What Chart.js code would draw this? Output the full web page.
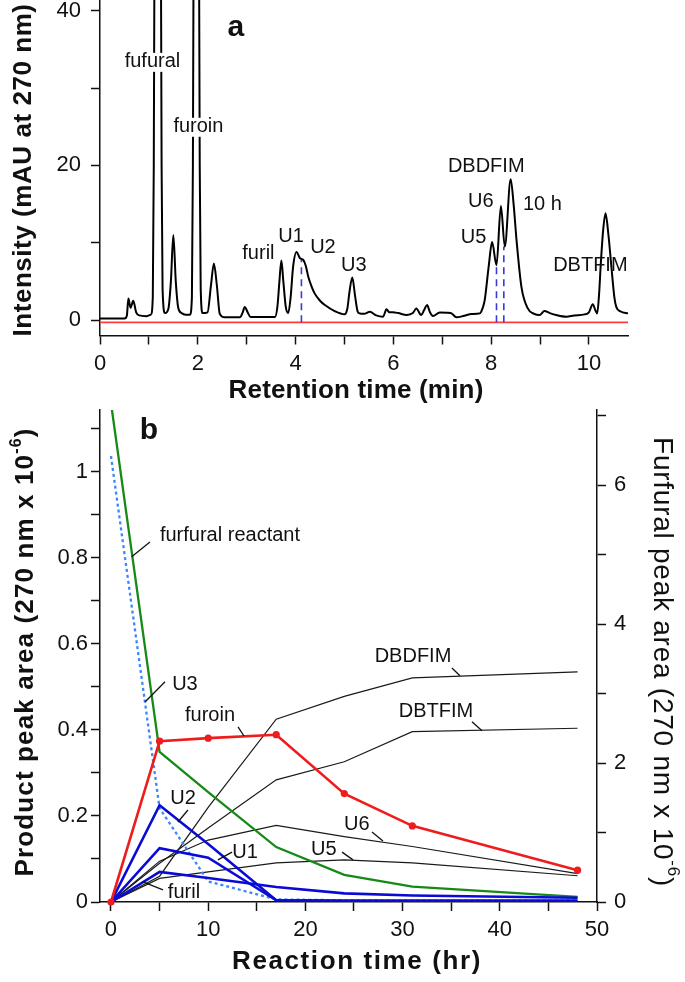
<!DOCTYPE html>
<html>
<head>
<meta charset="utf-8">
<script src="https://cdn.jsdelivr.net/npm/chart.js@4.4.1/dist/chart.umd.min.js"></script>
<style>
  html, body { margin: 0; padding: 0; background: #fff; }
  #wrap { position: relative; width: 685px; height: 982px; overflow: hidden; }
  canvas { position: absolute; left: 0; }
  #chromChart { top: 0; }
  #kinChart { top: 400px; }
</style>
</head>
<body>
<div id="wrap">
  <canvas id="chromChart" width="685" height="410"></canvas>
  <canvas id="kinChart" width="685" height="582"></canvas>
</div>
<script>
// ---- panel a: chromatogram after 10 h ----
const chromTime = [
  0.00, 0.50, 0.55, 0.58, 0.625, 0.68, 0.74, 0.80, 0.95, 1.04, 1.08, 1.10, 1.12, 1.18, 1.24, 1.26, 1.28, 1.33,
  1.40, 1.45, 1.50, 1.55, 1.60, 1.67, 1.75, 1.84, 1.88, 1.90, 1.92, 1.97, 2.02, 2.04, 2.06, 2.10,
  2.20, 2.27, 2.33, 2.39, 2.45, 2.55, 2.86, 2.92, 2.96, 3.02, 3.08, 3.58, 3.63, 3.67, 3.71, 3.75, 3.80, 3.85,
  3.90, 3.95, 4.02, 4.09, 4.155, 4.21, 4.26, 4.33, 4.39, 4.50, 4.60, 4.80, 5.00, 5.06, 5.10, 5.16, 5.22, 5.27,
  5.31, 5.40, 5.52, 5.65, 5.79, 5.86, 5.92, 5.99, 6.10, 6.27, 6.40, 6.47, 6.57, 6.63, 6.69, 6.75, 6.81, 6.95,
  7.10, 7.19, 7.29, 7.45, 7.60, 7.77, 7.83, 7.87, 7.95, 8.02, 8.11, 8.20, 8.28, 8.40, 8.46, 8.52, 8.62, 8.75,
  8.88, 8.99, 9.09, 9.20, 9.33, 9.54, 9.70, 9.91, 10.00, 10.08, 10.13, 10.17, 10.21, 10.24, 10.29, 10.34, 10.40,
  10.46, 10.52, 10.56, 10.65, 10.80
];
const chromSignal = [
  0.2, 0.2, 0.6, 2.8, 1.6, 2.5, 1.0, 0.6, 0.5, 0.7, 3.0, 20, 60, 150, 60, 20, 4.0, 0.9,
  1.5, 5.0, 11.0, 5.0, 1.6, 0.9, 0.7, 0.7, 3.0, 20, 60, 150, 60, 20, 4.0, 0.9,
  1.0, 4.5, 7.3, 4.5, 0.8, 0.35, 0.35, 1.0, 1.7, 1.0, 0.4, 0.4, 1.8, 5.0, 7.7, 5.0, 1.7, 0.9,
  3.0, 6.9, 8.8, 8.0, 7.8, 7.0, 5.6, 4.3, 3.45, 2.5, 1.94, 1.16, 0.75, 1.5, 3.5, 5.5, 3.0, 1.1,
  0.86, 0.8, 1.07, 0.6, 0.43, 1.38, 1.0, 1.0, 0.9, 0.65, 0.9, 1.5, 0.65, 1.3, 1.94, 1.0, 0.52, 0.99,
  0.95, 0.86, 0.35, 0.55, 0.78, 0.86, 1.6, 2.6, 6.9, 10.1, 7.1, 14.75, 9.5, 18.2, 15.0, 10.35, 4.3, 1.5,
  0.8, 0.65, 1.16, 0.9, 0.65, 0.43, 0.6, 0.73, 1.0, 2.03, 1.3, 0.86, 3.5, 6.9, 11.5, 13.8, 11.0,
  6.9, 3.0, 1.7, 1.1, 0.86
];
const zeroTime = [0, 10.8];
const zeroSignal = [-0.3, -0.3];
const cutTime = [4.12, 8.11, 8.26];
const cutTop = [7.9, 7.1, 9.5];
const cutBottom = -0.3;

// ---- panel b: peak areas vs reaction time ----
const hours = [0, 5, 10, 17, 24, 31, 48];
const furoin = [0, 0.374, 0.381, 0.389, 0.252, 0.177, 0.074];
const u2 = [0, 0.225, 0.135, 0.004, 0.003, 0.003, 0.003];
const u1 = [0, 0.125, 0.103, 0.004, 0.003, 0.003, 0.003];
const furil = [0, 0.07, 0.056, 0.035, 0.02, 0.015, 0.01];
const u3 = [1.037, 0.218, 0.048, 0.006, 0.004, 0.003, 0.003];
const dbdfim = [0, 0.06, 0.22, 0.425, 0.478, 0.521, 0.535];
const dbtfim = [0, 0.09, 0.172, 0.284, 0.326, 0.396, 0.404];
const u6 = [0, 0.095, 0.144, 0.178, 0.152, 0.129, 0.066];
const u5 = [0, 0.055, 0.07, 0.091, 0.098, 0.091, 0.061];
const furfural = [7.18, 2.16, 1.58, 0.79, 0.39, 0.22, 0.074]; // right axis

const FONT = "'Liberation Sans', Arial, Helvetica, sans-serif";

function pairs(xs, ys) {
  return xs.map((x, i) => ({ x: x, y: ys[i] }));
}

function tickList(from, to, step) {
  const out = [];
  for (let v = from; v <= to + 1e-9; v += step) out.push({ value: +v.toFixed(4) });
  return out;
}

// fixed box size, and no label padding pushed into the chart area
function fixSize(key, size) {
  return (s) => {
    s[key] = size;
    s.paddingTop = 0;
    s.paddingBottom = 0;
    s.paddingLeft = 0;
    s.paddingRight = 0;
  };
}

function axisStyle(extra) {
  return Object.assign({
    type: "linear",
    grid: { drawOnChartArea: false, drawTicks: true, tickLength: 9, tickColor: "#111", tickWidth: 1.5 },
    border: { display: true, color: "#111", width: 1.5 },
  }, extra);
}

// text with optional superscript, stretched to a given length
function drawTitle(ctx, t) {
  ctx.save();
  ctx.translate(t.x, t.y);
  ctx.rotate(t.angle || 0);
  ctx.fillStyle = "#111";
  ctx.textBaseline = "middle";
  ctx.textAlign = "left";
  const size = t.size;
  const mainFont = `${t.weight || "normal"} ${size}px ${FONT}`;
  const supFont = `${t.weight || "normal"} ${Math.round(size * 0.62)}px ${FONT}`;
  ctx.letterSpacing = "0px";
  let raw = 0, chars = 0;
  t.parts.forEach((p) => {
    ctx.font = p.sup ? supFont : mainFont;
    raw += ctx.measureText(p.t).width;
    chars += p.t.length;
  });
  const spacing = t.len ? (t.len - raw) / chars : 0;
  ctx.letterSpacing = spacing.toFixed(2) + "px";
  let total = 0;
  t.parts.forEach((p) => {
    ctx.font = p.sup ? supFont : mainFont;
    total += ctx.measureText(p.t).width;
  });
  let x = -total / 2;
  t.parts.forEach((p) => {
    ctx.font = p.sup ? supFont : mainFont;
    ctx.fillText(p.t, x, p.sup ? -size * 0.38 : 0);
    x += ctx.measureText(p.t).width;
  });
  ctx.restore();
}

const annotate = {
  id: "annotate",
  afterDraw(chart, args, opts) {
    const ctx = chart.ctx;
    const xs = chart.scales.x;
    const ys = chart.scales.y;
    ctx.save();
    ctx.strokeStyle = "#111";
    ctx.lineWidth = 1.3;
    ctx.textAlign = "center";
    ctx.textBaseline = "middle";
    (opts.labels || []).forEach((a) => {
      const px = xs.getPixelForValue(a.x);
      const py = ys.getPixelForValue(a.y);
      ctx.font = a.bold ? `bold ${a.size || 30}px ${FONT}` : `${a.size || 20}px ${FONT}`;
      if (a.bg) {
        const w = ctx.measureText(a.text).width;
        ctx.fillStyle = "#fff";
        ctx.fillRect(px - w / 2 - 1, py - 9, w + 2, 19);
      }
      ctx.fillStyle = "#111";
      ctx.fillText(a.text, px, py);
      if (a.leader) {
        ctx.beginPath();
        ctx.moveTo(xs.getPixelForValue(a.leader[0]), ys.getPixelForValue(a.leader[1]));
        ctx.lineTo(xs.getPixelForValue(a.leader[2]), ys.getPixelForValue(a.leader[3]));
        ctx.stroke();
      }
    });
    ctx.restore();
    (opts.titles || []).forEach((t) => drawTitle(ctx, t));
  },
};

// ---------- panel a ----------
const cutSets = cutTime.map((t, i) => ({
  data: [{ x: t, y: cutBottom }, { x: t, y: cutTop[i] }],
  borderColor: "#3a3ad8",
  borderWidth: 1.6,
  borderDash: [7, 5],
  pointRadius: 0,
}));

new Chart(document.getElementById("chromChart").getContext("2d"), {
  type: "line",
  data: {
    datasets: [
      {
        data: pairs(chromTime, chromSignal),
        borderColor: "#000",
        borderWidth: 2,
        pointRadius: 0,
        cubicInterpolationMode: "monotone",
      },
      ...cutSets,
      {
        data: pairs(zeroTime, zeroSignal),
        borderColor: "#ff3b3b",
        borderWidth: 1.6,
        pointRadius: 0,
      },
    ],
  },
  options: {
    responsive: false,
    devicePixelRatio: 1,
    animation: false,
    events: [],
    layout: { autoPadding: false, padding: { left: 0, right: 57, top: 0, bottom: 0 } },
    plugins: {
      legend: { display: false },
      tooltip: { enabled: false },
      annotate: {
        labels: [
          { text: "a", x: 2.78, y: 37.8, bold: true, size: 30 },
          { text: "fufural", x: 1.073, y: 33.4, bg: true },
          { text: "furoin", x: 2.013, y: 25.0, bg: true },
          { text: "furil", x: 3.24, y: 8.67 },
          { text: "U1", x: 3.91, y: 10.87 },
          { text: "U2", x: 4.56, y: 9.44 },
          { text: "U3", x: 5.19, y: 7.12 },
          { text: "DBDFIM", x: 7.9, y: 19.9 },
          { text: "U6", x: 7.79, y: 15.3 },
          { text: "10 h", x: 9.05, y: 15.0 },
          { text: "U5", x: 7.64, y: 10.7 },
          { text: "DBTFIM", x: 10.03, y: 7.0 },
        ],
        titles: [
          { parts: [{ t: "Intensity (mAU at 270 nm)" }], x: 24, y: 170, angle: -Math.PI / 2, weight: "bold", size: 26, len: 333 },
          { parts: [{ t: "Retention time (min)" }], x: 356, y: 391, weight: "bold", size: 26, len: 255 },
        ],
      },
    },
    scales: {
      x: axisStyle({
        min: 0,
        max: 10.8,
        afterBuildTicks: (s) => { s.ticks = tickList(0, 10, 1); },
        afterFit: fixSize("height", 74.5),
        ticks: {
          autoSkip: false, maxRotation: 0, padding: 6, color: "#111",
          font: { family: FONT, size: 22 },
          callback: (v) => (Math.round(v) % 2 === 0 ? String(Math.round(v)) : ""),
        },
      }),
      y: axisStyle({
        min: -2,
        max: 41.4,
        afterBuildTicks: (s) => { s.ticks = tickList(0, 40, 10); },
        afterFit: fixSize("width", 100),
        ticks: {
          autoSkip: false, padding: 10, color: "#111",
          font: { family: FONT, size: 22 },
          callback: (v) => (Math.round(v) % 20 === 0 ? String(Math.round(v)) : ""),
        },
      }),
    },
  },
  plugins: [annotate],
});

// ---------- panel b ----------
function series(values, color, width, extra) {
  return Object.assign({
    data: pairs(hours, values),
    borderColor: color,
    borderWidth: width,
    pointRadius: 0,
    tension: 0,
    yAxisID: "y",
  }, extra || {});
}

new Chart(document.getElementById("kinChart").getContext("2d"), {
  type: "line",
  data: {
    datasets: [
      series(furoin, "#ee1c1c", 2.6, { pointRadius: 3.6, pointBackgroundColor: "#ee1c1c", pointBorderWidth: 0, clip: false }),
      series(u2, "#0a0ad6", 2.6),
      series(u1, "#0a0ad6", 2.6),
      series(furil, "#0a0ad6", 2.6),
      series(furfural, "#168a16", 2.3, { yAxisID: "y2" }),
      series(u3, "#3a86ff", 2.3, { borderDash: [3, 3] }),
      series(dbdfim, "#1a1a1a", 1.2),
      series(dbtfim, "#1a1a1a", 1.2),
      series(u6, "#1a1a1a", 1.2),
      series(u5, "#1a1a1a", 1.2),
    ],
  },
  options: {
    responsive: false,
    devicePixelRatio: 1,
    animation: false,
    events: [],
    layout: { autoPadding: false, padding: { left: 0, right: 0, top: 10, bottom: 0 } },
    plugins: {
      legend: { display: false },
      tooltip: { enabled: false },
      annotate: {
        labels: [
          { text: "b", x: 3.91, y: 1.095, bold: true, size: 30 },
          { text: "furfural reactant", x: 12.24, y: 0.853, leader: [4.01, 0.837, 2.13, 0.803] },
          { text: "U3", x: 7.61, y: 0.505, leader: [5.56, 0.512, 3.5, 0.465] },
          { text: "furoin", x: 10.19, y: 0.433, leader: [13.07, 0.407, 13.68, 0.386] },
          { text: "U2", x: 7.41, y: 0.24, leader: [7.92, 0.214, 6.89, 0.186] },
          { text: "U1", x: 13.79, y: 0.116, leader: [12.45, 0.116, 11.0, 0.098] },
          { text: "furil", x: 7.51, y: 0.023, leader: [5.35, 0.028, 3.29, 0.047] },
          { text: "U5", x: 21.9, y: 0.121, leader: [23.77, 0.116, 24.9, 0.098] },
          { text: "U6", x: 25.3, y: 0.181, leader: [26.85, 0.163, 27.98, 0.142] },
          { text: "DBTFIM", x: 33.44, y: 0.443, leader: [37.14, 0.419, 38.17, 0.398] },
          { text: "DBDFIM", x: 31.07, y: 0.571, leader: [35.08, 0.544, 35.9, 0.526] },
        ],
        titles: [
          {
            parts: [{ t: "Product peak area (270 nm x 10" }, { t: "-6", sup: true }, { t: ")" }],
            x: 26, y: 252, angle: -Math.PI / 2, weight: "bold", size: 26, len: 449,
          },
          {
            parts: [{ t: "Furfural peak area (270 nm x 10" }, { t: "-6", sup: true }, { t: ")" }],
            x: 662, y: 262, angle: Math.PI / 2, weight: "normal", size: 28, len: 450,
          },
          { parts: [{ t: "Reaction time (hr)" }], x: 357, y: 562, weight: "bold", size: 26, len: 250 },
        ],
      },
    },
    scales: {
      x: axisStyle({
        min: -1.13,
        max: 50,
        afterBuildTicks: (s) => { s.ticks = tickList(0, 50, 5); },
        afterFit: fixSize("height", 80),
        ticks: {
          autoSkip: false, maxRotation: 0, padding: 6, color: "#111",
          font: { family: FONT, size: 22 },
          callback: (v) => (Math.round(v) % 10 === 0 ? String(Math.round(v)) : ""),
        },
      }),
      y: axisStyle({
        position: "left",
        min: 0,
        max: 1.144,
        afterBuildTicks: (s) => { s.ticks = tickList(0, 1.1, 0.1); },
        afterFit: fixSize("width", 100),
        ticks: {
          autoSkip: false, padding: 3, color: "#111",
          font: { family: FONT, size: 22 },
          callback: (v) => {
            const k = Math.round(v * 10);
            return k % 2 === 0 ? String(+(k / 10).toFixed(1)) : "";
          },
        },
      }),
      y2: axisStyle({
        position: "right",
        min: 0,
        max: 7.08,
        afterBuildTicks: (s) => { s.ticks = tickList(0, 7, 1); },
        afterFit: fixSize("width", 88),
        ticks: {
          autoSkip: false, padding: 8, color: "#111",
          font: { family: FONT, size: 22 },
          callback: (v) => (Math.round(v) % 2 === 0 ? String(Math.round(v)) : ""),
        },
      }),
    },
  },
  plugins: [annotate],
});
</script>
</body>
</html>
